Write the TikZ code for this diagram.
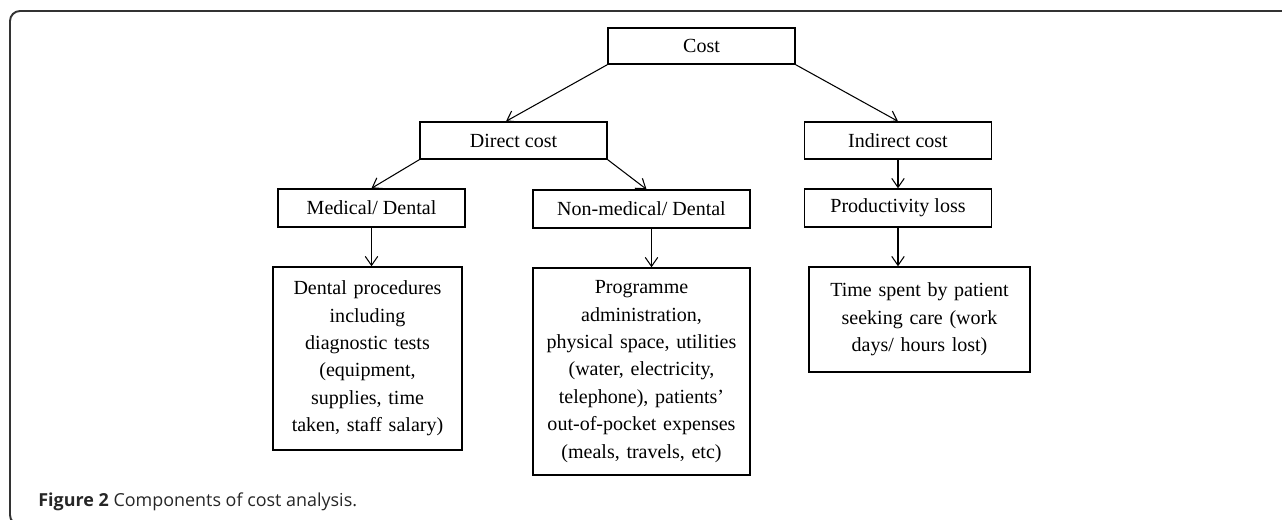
\documentclass[tikz,border=0pt]{standalone}
\usepackage{fontspec}
\setmainfont{Liberation Serif}
\newfontfamily\capfont{Open Sans}
\usetikzlibrary{arrows.meta,positioning}
\tikzstyle{post}=[->,>={Straight Barb[length=1.8mm,width=2.5mm]},line width=0.6pt]
\tikzstyle{box}=[draw,line width=0.8pt,align=center,inner sep=0pt,font=\fontsize{11.4}{15.6}\selectfont]

\begin{document}
\begin{tikzpicture}[
    auto,
    semithick
    ]
    \useasboundingbox (0,0) rectangle (25.64,10.38);
    \begin{scope}
    \clip (0,0) rectangle (25.64,10.38);
    \draw[line width=1.1pt,black!80,rounded corners=0.2cm] (0.2,-0.12) rectangle (26,10.16);
    \end{scope}
    \node[box,minimum width=3.74cm,minimum height=0.72cm](cost) at (14.03,9.46){Cost};
    \node[box,minimum width=3.74cm,minimum height=0.74cm](direct) at (10.27,7.57){Direct cost};
    \node[box,minimum width=3.74cm,minimum height=0.74cm](indirect) at (17.96,7.57){Indirect cost};
    \node[box,minimum width=3.74cm,minimum height=0.76cm](medical) at (7.43,6.22){Medical/ Dental};
    \node[box,minimum width=4.34cm,minimum height=0.76cm](nonmed) at (12.83,6.20){Non-medical/ Dental};
    \node[box,minimum width=3.74cm,minimum height=0.76cm](prod) at (17.96,6.22){Productivity loss};
    \node[box,text width=3.78cm,minimum height=3.66cm](dental) at (7.35,3.21){Dental procedures\\including\\diagnostic tests\\(equipment,\\supplies, time\\taken, staff salary)};
    \node[box,text width=4.34cm,minimum height=4.14cm](programme) at (12.83,2.95){Programme\\administration,\\physical space, utilities\\(water, electricity,\\telephone), patients’\\out-of-pocket expenses\\(meals, travels, etc)};
    \node[box,text width=4.42cm,minimum height=2.10cm](timespent) at (18.39,3.99){Time spent by patient\\seeking care (work\\days/ hours lost)};
    \node[anchor=base west,text=black!85,font=\capfont\fontsize{10.2}{12}\selectfont](caption) at (0.64,0.26){\textbf{Figure 2} Components of cost analysis.};
    \path[post]
    (cost.south west) edge ([xshift=-0.15cm]direct.north)
    (cost.south east) edge (indirect.north)
    (direct.south west) edge (medical.north)
    (direct.south east) edge ([xshift=0.1cm]nonmed.north)
    (indirect.south) edge (prod.north)
    (medical.south) edge (medical.south |- dental.north)
    ([xshift=0.2cm]nonmed.south) edge ([xshift=0.2cm]programme.north)
    (prod.south) edge (prod.south |- timespent.north)
    ;
\end{tikzpicture}
\end{document}
